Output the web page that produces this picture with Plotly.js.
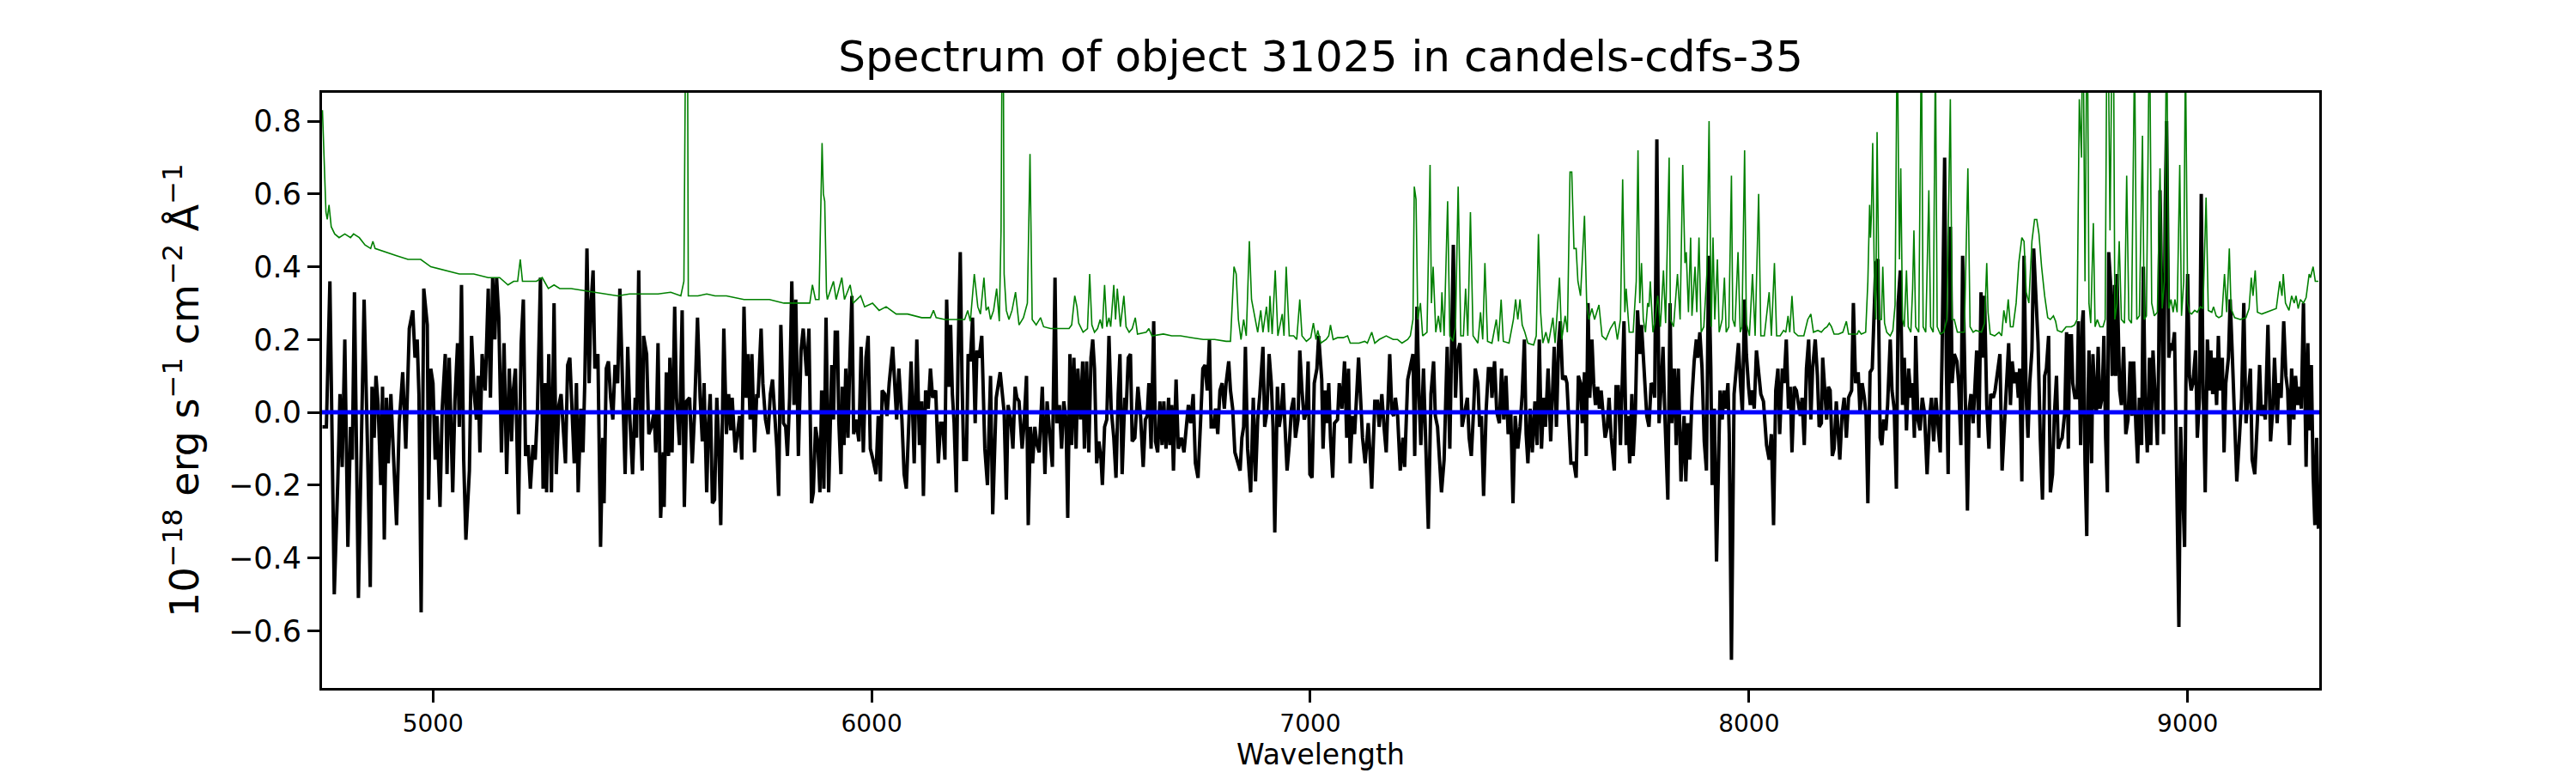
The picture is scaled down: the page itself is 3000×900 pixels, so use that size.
<!DOCTYPE html>
<html>
<head>
<meta charset="utf-8">
<script src="https://cdn.plot.ly/plotly-3.0.1.min.js"></script>
<style>
body { margin: 0; background: #fff; }
#myDiv { width: 3000px; height: 900px; }
</style>
</head>
<body>
<div id="myDiv"></div>
<script>
var waveA = [4748,4757,4765,4775,4783,4788,4793,4799,4806,4812,4816,4821,4830,4836,4843,4851,4857,4861,4866,4870,4875,4881,4885,4889,4894,4898,4904,4910,4917,4923,4931,4938,4941,4946,4954,4959,4964,4968,4973,4979,4987,4990,4995,5000,5005,5009,5016,5021,5028,5032,5037,5045,5050,5056,5060,5065,5070,5075,5083,5088,5094,5099,5103,5107,5112,5119,5126,5131,5136,5141,5145,5150,5156,5162,5168,5174,5179,5183,5188,5195,5201,5206,5211,5217,5222,5228,5233,5238,5245,5251,5256,5259,5264,5270,5276,5281,5287,5292,5302,5307,5312];
var fluxA = [-0.04,-0.04,0.36,-0.50,-0.19,0.05,-0.15,0.20,-0.37,-0.04,-0.13,0.33,-0.51,-0.18,0.31,-0.11,-0.48,0.07,-0.07,0.10,0.02,-0.20,0.07,-0.35,0.04,-0.14,0.05,-0.12,-0.31,-0.03,0.11,-0.10,0.05,0.23,0.28,0.15,0.20,0.05,-0.55,0.34,0.24,-0.24,0.12,0.08,-0.13,-0.01,-0.26,0.01,0.16,-0.17,0.15,-0.22,0.03,0.19,-0.04,0.35,-0.13,-0.35,-0.16,0.21,0.05,-0.02,0.10,-0.11,0.16,0.06,0.34,0.04,0.37,0.20,0.37,0.26,-0.11,0.19,-0.17,0.12,-0.08,0.06,0.12,-0.28,0.19,0.31,-0.12,-0.09,-0.21,-0.09,-0.13,0.00,0.37,-0.21,0.08,-0.22,0.16,-0.22,0.30,-0.17,0.02,0.05,-0.14,0.13,0.15];

var waveB = [5317,5322,5327,5331,5337,5342,5346,5351,5356,5360,5365,5369,5376,5382,5387,5390,5395,5400,5405,5410,5415,5421,5426,5431,5438,5444,5449,5455,5461,5464,5469,5474,5477,5480,5487,5492,5498,5504,5508,5513,5519,5525,5527,5532,5537,5540,5545,5551,5555,5562,5568,5573,5578,5585,5591,5596,5603,5609,5614,5618,5624,5628,5632,5637,5642,5647,5651,5656,5663,5669,5674,5679,5682,5689,5694,5699,5704,5709,5714,5718,5723,5727,5733,5738,5741,5748,5752,5758,5764,5769,5774,5779,5784,5788,5793,5799,5804,5808,5813,5818,5823,5827,5833,5839,5844,5849,5852,5857,5863,5867,5872,5877,5882];
var fluxB = [-0.03,-0.14,0.08,-0.22,0.01,-0.11,0.08,0.45,0.08,0.29,0.39,0.12,0.16,-0.37,-0.07,-0.25,0.12,0.14,0.04,-0.02,0.13,0.08,0.34,0.12,-0.17,0.18,-0.02,-0.17,0.04,-0.07,0.39,-0.07,-0.16,0.21,0.16,-0.06,-0.04,0.00,-0.11,0.19,-0.29,-0.11,-0.26,0.11,-0.12,0.15,-0.11,0.29,0.04,-0.09,0.28,-0.26,0.03,0.04,-0.14,-0.01,0.26,0.04,-0.08,0.08,-0.22,-0.03,0.05,-0.25,-0.24,0.04,-0.07,-0.31,0.23,-0.06,0.05,-0.05,0.04,-0.11,-0.05,-0.01,-0.13,0.29,0.04,0.16,-0.02,0.16,-0.11,0.05,0.04,0.23,0.08,-0.02,-0.06,0.05,0.09,-0.01,-0.10,-0.23,0.24,-0.03,-0.04,-0.12,0.04,0.36,0.02,0.31,-0.12,0.17,0.23,0.15,0.10,0.23,-0.25,-0.22,-0.04,-0.08,-0.22];

var waveC = [5886,5891,5896,5902,5909,5913,5917,5922,5925,5930,5933,5937,5941,5946,5950,5955,5959,5964,5971,5976,5981,5987,5992,5997,6003,6010,6015,6020,6024,6030,6035,6040,6048,6053,6057,6062,6069,6074,6079,6085,6090,6097,6103,6109,6114,6118,6123,6129,6134,6139,6146,6152,6157,6162,6167,6171,6176,6180,6184,6188,6193,6197,6202,6206,6210,6216,6220,6225,6230,6236,6240,6245,6251,6258,6264,6271,6276,6284,6289,6293,6298,6302,6307,6311,6317,6322,6327,6331,6336,6343,6347,6353,6357,6362,6367,6372,6377,6382,6389,6395,6400,6406,6412,6418,6422,6428,6433,6438,6443,6447,6452];
var fluxC = [0.06,-0.21,0.26,-0.22,0.13,-0.02,0.22,0.22,-0.02,-0.17,0.07,-0.09,0.12,-0.07,0.13,0.32,-0.06,-0.02,-0.08,0.18,-0.11,0.15,0.21,-0.10,-0.13,-0.17,-0.01,-0.19,0.06,0.05,-0.01,0.08,0.18,0.08,-0.02,0.12,-0.02,-0.17,-0.21,-0.02,0.14,-0.14,0.20,-0.09,0.03,-0.23,0.06,0.01,0.12,0.04,0.06,-0.14,-0.03,-0.03,-0.13,0.31,0.07,0.24,0.05,-0.03,-0.22,0.15,0.44,0.09,-0.13,-0.13,0.16,0.14,0.26,-0.03,0.17,0.15,0.21,-0.10,-0.20,0.10,-0.28,0.04,0.08,0.11,0.05,0.00,-0.24,0.02,-0.02,-0.10,0.07,0.04,0.03,-0.10,-0.04,0.10,-0.31,-0.04,-0.14,-0.04,-0.09,-0.11,0.07,-0.17,0.03,-0.07,-0.15,0.37,-0.03,0.02,-0.10,0.03,-0.02,-0.29,0.16];

var waveD = [6456,6461,6466,6470,6476,6481,6485,6490,6495,6500,6504,6508,6513,6518,6523,6526,6531,6536,6541,6546,6552,6557,6562,6566,6571,6577,6580,6585,6590,6594,6600,6607,6613,6619,6624,6628,6632,6637,6643,6647,6652,6657,6662,6666,6671,6677,6680,6684,6688,6694,6699,6706,6712,6717,6722,6727,6733,6738,6744,6750,6755,6760,6765,6770,6774,6780,6784,6789,6794,6799,6804,6808,6814,6818,6823,6828,6833,6840,6844,6848,6852,6857,6864,6870,6875,6880,6885,6892,6896,6901,6906,6911,6915,6919,6925,6929,6934,6938,6942,6947,6952,6957,6962,6966,6972,6976,6981,6986,6991,6995,6999,7004,7009,7015,7019];
var fluxD = [-0.09,0.15,-0.10,0.12,-0.02,0.14,-0.10,0.14,-0.11,0.15,0.20,0.12,-0.14,-0.08,-0.13,-0.20,-0.04,-0.02,0.21,0.01,-0.07,-0.18,0.05,0.16,-0.17,0.04,0.00,0.15,0.16,-0.08,-0.07,0.07,-0.01,-0.15,-0.02,-0.01,0.08,-0.10,0.25,-0.08,-0.11,0.03,-0.09,0.03,-0.10,0.04,-0.09,0.02,-0.16,0.09,-0.10,-0.07,-0.11,-0.03,0.02,-0.03,0.05,-0.14,-0.18,-0.02,0.12,0.13,0.06,0.20,-0.04,-0.04,0.01,-0.06,0.06,0.08,0.01,0.08,0.14,0.06,0.01,-0.11,-0.13,-0.16,-0.07,-0.04,0.18,-0.10,-0.22,0.04,-0.19,-0.02,0.05,0.18,-0.04,0.00,0.16,0.08,-0.04,-0.33,0.07,-0.04,0.00,0.08,-0.03,-0.16,-0.09,0.01,0.04,-0.07,-0.02,0.17,0.06,-0.02,0.00,0.14,-0.17,-0.18,0.08,0.12,0.21];

var waveE = [7026,7029,7034,7038,7042,7046,7051,7055,7062,7066,7072,7078,7083,7087,7091,7096,7101,7110,7114,7119,7125,7132,7136,7140,7147,7153,7157,7163,7168,7173,7181,7186,7190,7194,7199,7205,7211,7215,7222,7228,7234,7238,7243,7248,7252,7258,7263,7269,7275,7281,7285,7290,7299,7305,7312,7318,7326,7331,7335,7341,7346,7351,7358,7362,7367,7372,7376,7382,7386,7390,7395,7401,7406,7411,7414,7420,7425,7431,7436,7441,7446,7451,7457,7462,7467,7473,7478,7483,7488,7492,7496,7501,7506,7512,7517,7522,7527,7532,7536,7542,7548,7556,7561,7566,7570,7575,7581,7585,7589,7594];
var fluxE = [0.09,-0.10,0.06,-0.03,0.08,-0.07,-0.18,-0.03,-0.02,0.08,0.01,0.14,-0.07,0.12,-0.14,-0.01,-0.06,0.15,0.04,-0.07,-0.14,-0.03,-0.11,-0.21,0.03,0.03,-0.04,0.05,-0.04,-0.11,0.16,0.00,-0.01,0.04,-0.01,-0.16,-0.07,-0.15,0.09,0.12,0.16,-0.12,0.29,0.04,-0.09,0.12,-0.07,-0.32,0.05,0.14,-0.01,-0.04,-0.22,-0.13,0.18,-0.10,0.46,0.04,0.16,0.19,-0.04,-0.01,0.04,-0.07,-0.12,0.00,0.12,0.08,-0.04,-0.01,-0.23,0.01,0.12,0.12,0.04,0.14,0.00,-0.03,0.12,-0.02,0.10,-0.06,0.00,-0.25,-0.01,-0.10,-0.04,0.05,0.20,-0.06,-0.14,0.01,-0.11,0.03,-0.09,0.20,-0.10,0.04,-0.04,0.12,-0.08,0.18,-0.04,0.19,0.25,0.09,0.10,0.08,-0.04,-0.14];

var waveF = [7601,7606,7611,7616,7620,7625,7629,7633,7637,7642,7646,7650,7655,7659,7663,7668,7672,7677,7681,7686,7693,7697,7702,7707,7712,7715,7720,7724,7728,7733,7736,7741,7746,7751,7755,7759,7764,7767,7772,7777,7782,7785,7790,7795,7800,7804,7808,7815,7820,7824,7830,7834,7839,7845,7852,7856,7860,7865,7870,7875,7880,7883,7888,7893,7898,7903,7908,7913,7916,7921,7926,7930,7934,7939,7943,7947,7952,7955,7960,7966,7971,7976,7981,7985,7990,7994,7999,8003,8007,8012,8017,8021,8027,8033,8040,8046,8051,8056,8061,8066,8070,8076,8080,8085,8090,8094,8098,8103,8108,8113,8117,8121,8126,8131,8136,8141,8145,8151,8156,8160];
var fluxF = [-0.14,-0.18,0.10,0.08,-0.03,0.11,-0.12,0.30,0.04,0.20,0.08,0.02,0.07,0.01,0.06,0.00,-0.07,-0.04,0.04,-0.07,-0.16,0.07,0.07,-0.09,0.12,0.25,-0.09,-0.01,-0.14,0.05,-0.12,0.00,0.28,0.16,0.24,0.15,0.08,-0.01,-0.04,0.08,0.07,0.04,0.75,-0.03,0.08,0.18,0.00,-0.24,0.30,-0.03,0.12,-0.09,0.12,-0.19,-0.01,-0.19,-0.03,-0.13,0.04,0.14,0.20,0.15,0.22,0.12,-0.08,-0.16,0.43,0.12,-0.20,0.01,-0.41,-0.16,0.06,-0.02,0.06,0.01,0.08,-0.06,-0.68,0.05,0.13,0.19,0.07,0.00,0.31,0.16,0.07,0.02,0.06,0.01,0.17,0.12,0.05,0.03,-0.09,-0.13,-0.06,-0.31,0.06,0.12,-0.06,0.12,0.08,0.20,0.01,0.07,-0.11,0.07,0.06,0.02,-0.01,0.04,-0.09,0.12,0.20,-0.02,0.12,0.20,0.10,-0.04];

var waveG = [8165,8168,8173,8177,8181,8185,8190,8194,8199,8203,8207,8212,8217,8222,8227,8234,8238,8243,8249,8253,8258,8263,8267,8271,8276,8281,8284,8289,8294,8299,8303,8307,8312,8316,8322,8326,8331,8336,8340,8345,8350,8354,8359,8364,8369,8373,8377,8380,8385,8390,8395,8400,8406,8412,8416,8421,8426,8431,8436,8440,8446,8450,8454,8459,8463,8468,8474,8478,8483,8487,8493,8498,8502,8506,8511,8515,8519,8524,8529,8532,8537,8542,8547,8551,8557,8561,8566,8572,8577,8583,8588,8592,8596,8600,8605,8610,8614,8617,8622,8627,8632,8636,8640,8645,8649,8654,8659,8664,8669,8674,8678,8683,8687,8692,8696,8701,8705,8710,8714,8720,8724,8728,8731];
var fluxG = [-0.03,0.15,0.07,-0.02,0.07,0.06,-0.12,-0.10,0.03,-0.04,-0.13,-0.01,0.04,-0.07,0.04,0.06,0.30,0.08,0.11,0.00,0.08,0.04,-0.01,-0.25,0.11,0.12,0.26,0.41,0.42,-0.07,-0.09,-0.02,-0.05,0.02,0.20,0.06,0.01,-0.21,0.30,0.39,0.02,0.15,-0.05,0.12,0.04,0.08,-0.07,0.21,-0.02,-0.05,0.04,0.00,-0.17,-0.01,0.04,-0.08,0.04,-0.03,-0.11,0.15,0.70,0.12,-0.17,0.51,0.08,0.16,0.14,0.08,-0.09,0.43,-0.03,-0.27,0.01,0.05,-0.03,0.10,0.17,-0.07,0.33,0.15,0.32,0.02,-0.10,0.05,0.04,0.06,0.10,0.16,-0.16,-0.01,0.08,0.19,0.02,0.14,0.08,0.11,0.04,0.12,-0.19,0.43,0.04,-0.07,0.08,0.17,0.45,0.30,0.19,-0.07,-0.24,0.10,0.12,0.21,-0.22,-0.17,-0.01,0.10,-0.10,-0.08,-0.07,0.00,0.22,-0.10,0.21];

var waveH = [8735,8738,8743,8748,8751,8756,8760,8762,8766,8770,8773,8775,8781,8784,8789,8792,8796,8800,8805,8809,8813,8817,8820,8824,8828,8833,8836,8839,8845,8849,8854,8859,8864,8869,8873,8877,8882,8886,8890,8895,8899,8903,8908,8913,8916,8921,8926,8931,8934,8937,8941,8945,8949,8952,8957,8961,8965,8970,8973,8976,8980,8984,8988,8993,8996,9000,9004,9008,9012,9018,9022,9027,9031,9035,9040,9045,9050,9053,9057,9061,9066,9070,9074,9079,9083,9087,9093,9097,9102,9107,9112,9118,9123,9128,9133,9138,9143,9147,9153,9159,9164,9168,9172,9177,9183,9189,9194,9198,9204,9208,9213,9219,9224,9228,9232,9237,9242,9246,9251,9255,9259,9264,9267,9270,9274,9278,9282,9286,9290,9294,9298];
var fluxH = [0.21,0.08,0.04,0.04,0.25,-0.09,0.25,0.28,-0.14,-0.34,0.04,0.17,-0.14,0.16,0.02,0.00,0.18,0.01,0.04,0.21,-0.07,-0.22,0.44,0.36,0.10,0.35,0.10,0.38,0.06,0.02,0.18,-0.06,-0.02,0.14,-0.01,0.14,-0.04,-0.14,0.04,-0.09,0.40,0.04,-0.11,0.15,-0.09,0.17,0.04,-0.09,0.15,0.61,0.30,-0.06,0.57,0.80,0.15,0.19,0.17,0.22,-0.01,-0.28,-0.59,-0.04,-0.17,-0.37,0.07,0.38,0.10,0.06,0.08,0.17,-0.07,0.04,0.60,0.09,-0.22,0.20,0.06,0.17,0.05,0.15,0.02,0.21,0.06,0.15,-0.11,0.08,0.15,0.31,0.15,0.00,-0.19,-0.07,0.04,0.30,-0.03,0.05,0.12,-0.13,-0.17,-0.02,0.13,-0.01,0.02,-0.02,0.24,-0.08,0.01,0.15,-0.03,0.08,0.04,0.25,0.10,0.06,-0.09,0.12,-0.02,0.10,0.02,0.07,0.01,0.30,-0.02,-0.15,0.19,-0.05,0.13,-0.17,-0.31,-0.07,-0.32];

// Noise spectrum (green), with the sky lines
var errWaveA = [4748,4752,4756,4759,4763,4768,4776,4786,4799,4812,4819,4832,4845,4858,4863,4868,4891,4917,4943,4972,4995,5028,5060,5093,5126,5152,5171,5184,5193,5199,5204,5223,5236,5249,5263,5276,5289,5315,5343,5369,5395,5421,5448,5474,5513,5542,5565,5572,5575,5579,5582,5591,5604,5624,5643,5669,5709,5735,5767,5800,5839,5859,5865,5872,5880,5885,5887,5890,5893,5897];
var errA = [0.83,0.70,0.55,0.53,0.57,0.51,0.49,0.48,0.49,0.48,0.49,0.48,0.46,0.45,0.47,0.45,0.44,0.43,0.42,0.42,0.40,0.39,0.38,0.38,0.37,0.37,0.35,0.36,0.36,0.42,0.36,0.36,0.36,0.37,0.34,0.35,0.34,0.34,0.335,0.33,0.325,0.32,0.325,0.325,0.325,0.33,0.32,0.36,1.6,1.6,0.32,0.32,0.32,0.325,0.32,0.32,0.31,0.31,0.31,0.30,0.30,0.30,0.35,0.31,0.31,0.57,0.74,0.60,0.58,0.33];

var errWaveB = [5899,5913,5919,5932,5938,5951,5958,5975,5984,6002,6017,6033,6056,6082,6114,6134,6141,6147,6167,6193,6212,6219,6225,6234,6242,6248,6256,6261,6266,6271,6278,6285,6291,6295,6297,6299,6302,6307,6313,6320,6328,6336,6346,6355,6361,6366,6375,6385,6392,6408,6428,6450,6456,6463,6468,6472,6482,6492,6497,6502,6508,6515,6521,6526,6531,6536,6541,6545,6552,6556,6560,6567,6575,6580,6587,6594,6601,6606,6626,6632,6639,6665,6684,6704,6730,6756,6782,6808,6818,6826,6831,6836,6842,6848,6854,6861,6866,6874,6880,6887,6892,6900,6905,6908,6913,6920,6926,6936,6940,6945,6952,6962,6969,6976,6981,6991,7001,7007,7013,7017,7024];
var errB = [0.31,0.36,0.31,0.37,0.31,0.35,0.30,0.32,0.29,0.30,0.28,0.29,0.27,0.27,0.26,0.26,0.28,0.26,0.255,0.255,0.255,0.28,0.25,0.38,0.29,0.27,0.37,0.28,0.29,0.255,0.28,0.34,0.25,0.50,1.4,1.4,0.38,0.28,0.255,0.28,0.33,0.24,0.26,0.30,0.71,0.255,0.24,0.26,0.235,0.23,0.23,0.23,0.24,0.32,0.29,0.245,0.22,0.23,0.38,0.24,0.22,0.23,0.255,0.23,0.35,0.235,0.26,0.235,0.35,0.255,0.34,0.235,0.32,0.235,0.22,0.23,0.26,0.215,0.22,0.23,0.21,0.215,0.21,0.21,0.205,0.20,0.20,0.195,0.195,0.40,0.38,0.255,0.20,0.255,0.21,0.47,0.31,0.255,0.22,0.28,0.22,0.29,0.22,0.32,0.215,0.39,0.21,0.27,0.21,0.40,0.21,0.21,0.20,0.31,0.21,0.195,0.205,0.245,0.20,0.225,0.19];

var errWaveC = [7036,7042,7046,7052,7062,7075,7085,7091,7111,7124,7130,7140,7147,7157,7173,7189,7199,7209,7222,7228,7234,7237,7241,7245,7251,7256,7266,7273,7276,7280,7286,7292,7297,7300,7305,7313,7318,7325,7331,7337,7343,7349,7354,7359,7365,7371,7382,7388,7393,7398,7404,7414,7424,7429,7435,7440,7453,7463,7468,7473,7478,7483,7489,7496,7509,7515,7520,7525,7530,7537,7543,7553,7558,7568,7573,7581,7586,7592];
var errC = [0.20,0.21,0.24,0.20,0.205,0.205,0.21,0.19,0.19,0.195,0.19,0.22,0.19,0.20,0.21,0.20,0.20,0.19,0.20,0.21,0.255,0.62,0.585,0.255,0.30,0.21,0.22,0.68,0.30,0.40,0.22,0.265,0.22,0.33,0.21,0.58,0.21,0.195,0.235,0.62,0.21,0.21,0.34,0.21,0.55,0.21,0.19,0.275,0.20,0.41,0.195,0.19,0.255,0.195,0.31,0.195,0.19,0.255,0.31,0.255,0.31,0.24,0.22,0.19,0.185,0.21,0.49,0.275,0.19,0.22,0.19,0.26,0.19,0.37,0.20,0.265,0.22,0.66];

var errWaveD = [7596,7601,7606,7610,7616,7625,7630,7635,7642,7648,7653,7658,7665,7674,7684,7694,7700,7707,7712,7717,7720,7727,7736,7743,7747,7751,7755,7759,7764,7769,7772,7775,7781,7785,7792,7798,7805,7810,7818,7821,7828,7837,7843,7849,7854,7857,7862,7867,7870,7877,7881,7886,7891,7897,7904,7909,7914,7918,7922,7928,7932,7939,7944,7948,7954,7960,7963,7968,7975,7980,7984,7990,7994,8001,8008,8014,8022,8027,8035,8046,8051,8058,8063,8071,8079,8084,8089,8093,8098,8103,8112,8125,8134,8141,8147,8157];
var errD = [0.66,0.45,0.45,0.36,0.32,0.54,0.30,0.255,0.285,0.255,0.275,0.295,0.21,0.20,0.23,0.25,0.20,0.255,0.64,0.275,0.34,0.22,0.22,0.36,0.72,0.30,0.41,0.255,0.22,0.30,0.29,0.36,0.22,0.245,0.32,0.235,0.39,0.245,0.70,0.255,0.235,0.38,0.255,0.68,0.41,0.44,0.275,0.48,0.265,0.40,0.275,0.48,0.22,0.235,0.38,0.80,0.235,0.48,0.255,0.42,0.22,0.255,0.37,0.22,0.235,0.65,0.255,0.235,0.44,0.22,0.235,0.72,0.245,0.21,0.38,0.21,0.60,0.21,0.21,0.33,0.21,0.41,0.21,0.21,0.225,0.22,0.265,0.22,0.32,0.22,0.21,0.21,0.255,0.27,0.22,0.225];

var errWaveE = [8165,8172,8178,8183,8188,8194,8204,8214,8222,8227,8237,8247,8250,8256,8266,8271,8275,8277,8279,8282,8286,8289,8292,8297,8302,8305,8309,8314,8322,8328,8333,8338,8341,8343,8346,8350,8354,8359,8363,8369,8373,8376,8380,8387,8393,8397,8403,8410,8414,8420,8425,8429,8436,8444,8451,8459,8463,8468,8475,8485,8491,8499,8504,8511,8517,8530,8537,8542,8545,8550,8560,8570,8576,8581,8586,8591,8596,8602,8609,8615,8622,8627,8632,8638,8645,8651,8656,8661,8667,8674,8681,8687,8694,8699,8703,8713,8723];
var errE = [0.22,0.23,0.235,0.245,0.235,0.215,0.215,0.22,0.25,0.215,0.215,0.215,0.225,0.215,0.22,0.36,0.57,0.48,0.54,0.74,0.34,0.255,0.77,0.255,0.255,0.40,0.245,0.22,0.21,0.225,0.295,1.1,0.63,0.42,0.67,0.255,0.235,0.39,0.235,0.22,0.34,0.50,0.235,0.22,1.05,0.235,0.22,0.61,0.235,0.22,1.0,0.235,0.215,0.22,0.255,0.86,0.255,0.255,0.22,0.22,0.22,0.67,0.235,0.22,0.225,0.22,0.245,0.41,0.275,0.215,0.21,0.22,0.21,0.28,0.245,0.31,0.235,0.235,0.30,0.41,0.48,0.47,0.33,0.30,0.47,0.53,0.53,0.49,0.40,0.32,0.26,0.255,0.265,0.25,0.225,0.22,0.235];

var errWaveF = [8735,8742,8748,8753,8758,8761,8766,8771,8775,8779,8785,8789,8794,8800,8807,8812,8817,8823,8830,8834,8839,8844,8849,8856,8861,8866,8872,8879,8884,8890,8897,8901,8906,8913,8918,8924,8931,8937,8942,8947,8952,8957,8962,8967,8971,8976,8982,8986,8991,8995,9000,9004,9009,9016,9022,9029,9035,9042,9047,9055,9059,9065,9071,9078,9084,9089,9095,9099,9107,9120,9133,9140,9145,9149,9154,9159,9169,9179,9192,9202,9210,9215,9218,9223,9231,9237,9243,9247,9252,9257,9264,9270,9277,9280,9286,9291,9298];
var errF = [0.235,0.24,0.255,0.86,0.70,1.2,0.36,1.2,0.30,0.245,0.52,0.235,0.255,0.235,0.235,0.255,1.3,0.50,1.3,0.255,0.30,0.47,0.255,0.245,0.65,0.255,0.245,1.0,0.255,0.265,0.76,0.255,0.265,1.1,0.30,0.265,0.275,0.67,0.285,0.36,1.1,0.285,0.31,0.275,0.31,0.275,0.68,0.265,0.36,1.0,0.30,0.275,0.27,0.28,0.275,0.29,0.285,0.59,0.28,0.275,0.29,0.265,0.26,0.265,0.38,0.275,0.45,0.285,0.26,0.255,0.26,0.285,0.37,0.32,0.39,0.275,0.27,0.275,0.28,0.285,0.36,0.32,0.38,0.30,0.28,0.32,0.30,0.32,0.285,0.31,0.30,0.315,0.38,0.37,0.40,0.36,0.36];

// Zero model line
var modelWave = [4747, 9300];
var modelFlux = [0, 0];

// Axis ticks
var xTicks = [5000, 6000, 7000, 8000, 9000];
var yTicks = [-0.6, -0.4, -0.2, 0.0, 0.2, 0.4, 0.6, 0.8];
var yTickText = ['\u22120.6', '\u22120.4', '\u22120.2', '0.0', '0.2', '0.4', '0.6', '0.8'];

var wave = waveA.concat(waveB, waveC, waveD, waveE, waveF, waveG, waveH);
var flux = fluxA.concat(fluxB, fluxC, fluxD, fluxE, fluxF, fluxG, fluxH);
var errWave = errWaveA.concat(errWaveB, errWaveC, errWaveD, errWaveE, errWaveF);
var err = errA.concat(errB, errC, errD, errE, errF);

var font = 'DejaVu Sans, sans-serif';

var traceFlux = {
  x: wave, y: flux, type: 'scatter', mode: 'lines',
  line: {color: '#000000', width: 4}
};
var traceModel = {
  x: modelWave, y: modelFlux, type: 'scatter', mode: 'lines',
  line: {color: '#0000ff', width: 5}
};
var traceErr = {
  x: errWave, y: err, type: 'scatter', mode: 'lines',
  line: {color: '#008000', width: 1.6}
};

var data = [traceFlux, traceModel, traceErr];

var axisCommon = {
  showgrid: false, zeroline: false,
  showline: true, mirror: true, linecolor: '#000', linewidth: 3,
  ticks: 'outside', ticklen: 14, tickwidth: 3, tickcolor: '#000'
};

var layout = {
  width: 3000, height: 900,
  margin: {l: 375, r: 299, t: 108, b: 99},
  paper_bgcolor: '#fff', plot_bgcolor: '#fff',
  showlegend: false,
  title: {
    text: 'Spectrum of object 31025 in candels-cdfs-35',
    font: {family: font, size: 50, color: '#000'},
    x: 0.5, xref: 'paper', xanchor: 'center',
    y: 0.927, yref: 'container', yanchor: 'middle'
  },
  xaxis: Object.assign({}, axisCommon, {
    range: [4747, 9300],
    tickvals: xTicks,
    tickfont: {family: font, size: 28, color: '#000'},
    title: {text: 'Wavelength', font: {family: font, size: 33, color: '#000'}, standoff: 4}
  }),
  yaxis: Object.assign({}, axisCommon, {
    range: [-0.7575, 0.878],
    tickvals: yTicks, ticktext: yTickText,
    tickfont: {family: font, size: 35, color: '#000'},
    title: {
      text: '10<sup>\u221218</sup> erg s<sup>\u22121</sup> cm<sup>\u22122</sup> \u00c5<sup>\u22121</sup>',
      font: {family: font, size: 46, color: '#000'}, standoff: 20
    }
  })
};

Plotly.newPlot('myDiv', data, layout, {displayModeBar: false, staticPlot: true});
</script>
</body>
</html>
